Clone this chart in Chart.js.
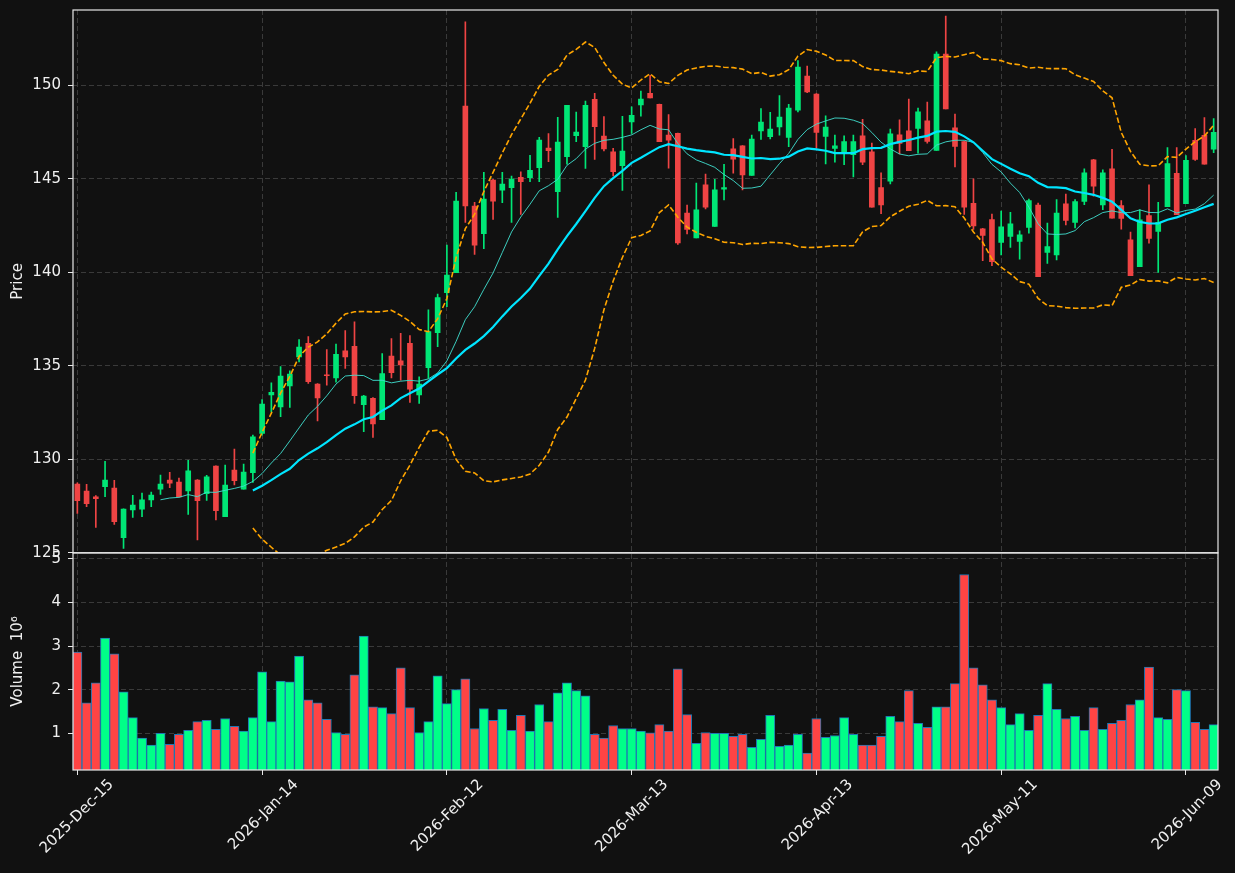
<!DOCTYPE html>
<html>
<head>
<meta charset="utf-8">
<title>Price / Volume</title>
<script src="https://cdn.jsdelivr.net/npm/chart.js@4.4.1/dist/chart.umd.min.js"></script>
<style>
  html, body { margin: 0; padding: 0; background: #111111; }
  #chart_price { display: block; }
</style>
</head>
<body>
<canvas id="chart_price" width="1235" height="873"></canvas>
<script>
var opens = [
  128.68, 128.31, 127.99, 128.54, 128.47, 125.81, 127.29, 127.34, 127.83, 128.41,
  128.89, 128.79, 128.31, 128.89, 128.16, 129.64, 126.93, 129.43, 128.40, 129.29,
  131.39, 133.45, 132.81, 133.93, 135.48, 136.21, 134.02, 134.52, 134.36, 135.80,
  136.05, 132.92, 133.27, 132.12, 135.52, 135.27, 136.21, 133.45, 134.90, 136.77,
  138.91, 139.98, 148.89, 143.55, 142.07, 144.94, 144.40, 144.53, 145.08, 145.06,
  145.60, 146.65, 144.31, 146.19, 147.31, 146.72, 149.25, 147.29, 146.44, 145.71,
  148.05, 148.95, 149.57, 148.99, 147.34, 147.43, 143.17, 141.84, 144.68, 142.46,
  144.45, 146.60, 146.76, 145.18, 147.57, 147.25, 147.78, 147.22, 148.67, 150.50,
  149.54, 147.27, 146.63, 146.38, 146.29, 147.30, 146.45, 144.54, 144.88, 147.36,
  147.57, 147.70, 148.10, 146.52, 151.67, 147.73, 147.00, 143.69, 142.33, 142.82,
  141.60, 141.92, 141.65, 142.40, 143.60, 141.06, 140.93, 143.67, 142.67, 143.80,
  146.02, 143.60, 145.54, 143.57, 141.74, 140.30, 143.03, 142.19, 143.51, 145.29,
  143.67, 147.06, 147.33, 146.59
];
var highs = [
  128.75, 128.66, 128.06, 129.89, 128.88, 127.36, 128.07, 128.20, 128.25, 129.16,
  129.30, 129.00, 129.95, 128.92, 129.14, 129.66, 129.70, 130.55, 129.75, 131.30,
  133.20, 134.09, 134.96, 134.73, 136.41, 136.57, 134.05, 135.87, 136.16, 136.89,
  137.35, 133.42, 133.30, 135.66, 136.46, 136.74, 136.62, 134.41, 137.99, 138.84,
  141.46, 144.28, 153.40, 143.74, 145.35, 144.97, 145.35, 145.15, 145.37, 146.26,
  147.22, 147.42, 148.29, 148.93, 148.57, 149.16, 149.57, 148.33, 146.63, 148.35,
  148.85, 149.70, 150.53, 149.00, 148.44, 147.45, 143.60, 144.77, 145.25, 144.98,
  145.78, 147.16, 146.78, 147.34, 148.76, 148.56, 149.45, 148.99, 151.33, 151.03,
  149.56, 148.37, 147.34, 147.30, 147.34, 148.19, 146.91, 145.32, 147.66, 148.16,
  149.26, 148.78, 149.10, 151.79, 153.71, 148.46, 147.02, 145.00, 142.36, 143.12,
  143.28, 143.21, 142.22, 143.92, 143.71, 142.63, 143.89, 144.19, 143.89, 145.54,
  146.04, 145.48, 146.58, 143.84, 142.15, 143.35, 144.68, 143.75, 146.67, 146.67,
  146.25, 147.69, 148.28, 148.23
];
var lows = [
  127.11, 127.47, 126.36, 128.00, 126.52, 125.24, 126.90, 126.93, 127.47, 128.13,
  128.48, 127.99, 127.06, 125.69, 127.81, 126.76, 126.93, 128.63, 128.40, 128.77,
  131.30, 132.54, 132.28, 132.78, 135.21, 134.06, 132.06, 133.97, 134.13, 134.86,
  132.99, 131.48, 131.17, 132.12, 134.36, 134.23, 133.04, 132.99, 134.33, 136.02,
  138.16, 139.98, 142.67, 140.96, 141.27, 142.83, 143.73, 142.67, 143.10, 144.85,
  144.85, 145.92, 142.94, 145.79, 146.99, 145.56, 146.04, 146.49, 145.16, 144.38,
  147.43, 148.35, 149.33, 146.99, 145.57, 141.49, 142.06, 141.84, 143.39, 142.46,
  143.88, 145.30, 144.41, 145.18, 147.11, 147.13, 147.34, 146.72, 148.58, 149.61,
  146.65, 145.80, 145.89, 145.76, 145.11, 145.76, 143.49, 143.14, 144.73, 146.33,
  146.51, 146.38, 146.91, 146.52, 148.74, 145.64, 143.10, 142.30, 140.63, 140.36,
  140.93, 141.34, 140.70, 142.10, 139.77, 140.48, 140.66, 142.54, 142.37, 143.62,
  144.07, 143.35, 142.90, 142.31, 139.82, 140.30, 141.56, 140.00, 143.51, 143.08,
  143.67, 145.99, 145.79, 146.40
];
var closes = [
  127.79, 127.63, 127.90, 128.89, 126.67, 127.34, 127.56, 127.83, 128.09, 128.68,
  128.73, 127.99, 129.38, 127.79, 129.06, 127.25, 128.63, 128.86, 129.32, 131.21,
  132.95, 133.59, 134.45, 134.56, 136.00, 134.15, 133.29, 134.47, 135.62, 135.48,
  133.40, 133.38, 131.90, 134.59, 134.63, 135.05, 133.75, 134.02, 136.83, 138.65,
  139.86, 143.81, 143.55, 141.46, 143.92, 143.81, 144.72, 144.99, 144.85, 145.45,
  147.08, 146.51, 146.97, 148.93, 147.50, 148.93, 147.79, 146.60, 145.39, 146.49,
  148.40, 149.26, 149.33, 146.99, 147.07, 141.58, 142.29, 143.35, 143.48, 144.41,
  144.54, 146.05, 145.21, 147.13, 148.03, 147.66, 148.30, 148.78, 150.98, 149.65,
  147.48, 147.77, 146.77, 146.99, 146.99, 145.89, 143.49, 143.60, 147.41, 146.90,
  146.51, 148.58, 147.00, 151.67, 148.74, 146.74, 143.49, 142.48, 141.98, 140.57,
  142.44, 142.60, 142.01, 143.84, 139.77, 141.38, 143.17, 142.78, 143.78, 145.32,
  144.61, 145.32, 142.90, 142.89, 139.82, 142.81, 141.81, 142.67, 145.82, 143.08,
  145.99, 146.04, 145.79, 147.49
];
// volume in millions
var volumes = [
  2.86, 1.70, 2.16, 3.18, 2.82, 1.95, 1.36, 0.89, 0.73, 1.00,
  0.75, 0.98, 1.07, 1.27, 1.30, 1.09, 1.34, 1.16, 1.05, 1.36,
  2.41, 1.27, 2.20, 2.18, 2.77, 1.77, 1.70, 1.32, 1.02, 0.98,
  2.34, 3.23, 1.61, 1.59, 1.45, 2.50, 1.59, 1.02, 1.27, 2.32,
  1.68, 2.00, 2.25, 1.11, 1.57, 1.30, 1.55, 1.07, 1.41, 1.05,
  1.66, 1.27, 1.93, 2.16, 1.98, 1.86, 0.98, 0.89, 1.18, 1.11,
  1.11, 1.05, 1.01, 1.20, 1.05, 2.48, 1.43, 0.77, 1.02, 1.00,
  1.00, 0.93, 0.98, 0.68, 0.86, 1.41, 0.70, 0.73, 0.98, 0.55,
  1.34, 0.91, 0.95, 1.36, 0.98, 0.73, 0.73, 0.93, 1.39, 1.27,
  1.98, 1.23, 1.14, 1.61, 1.61, 2.14, 4.64, 2.50, 2.11, 1.77,
  1.59, 1.20, 1.45, 1.07, 1.41, 2.14, 1.55, 1.34, 1.39, 1.07,
  1.59, 1.09, 1.23, 1.30, 1.66, 1.77, 2.52, 1.36, 1.32, 2.00,
  1.98, 1.25, 1.09, 1.20
];
var tick_positions = [0, 20, 40, 60, 80, 100, 120];
var tick_labels = ['2025-Dec-15', '2026-Jan-14', '2026-Feb-12', '2026-Mar-13', '2026-Apr-13', '2026-May-11', '2026-Jun-09'];
var price_ticks = [125, 130, 135, 140, 145, 150];
var volume_ticks = [1, 2, 3, 4, 5];

var up_color = '#00e676';
var down_color = '#ef4444';
var vol_up_color = '#00ff88';
var vol_down_color = '#ff4444';
var text_color = '#f0f0f0';
var font = { family: 'DejaVu Sans', size: 15 };

function sma(values, n){
  return values.map(function (v, i) {
    if (i < n - 1) return null;
    var s = 0;
    for (var k = i - n + 1; k <= i; k++) s += values[k];
    return s / n;
  });
}

function rolling_std(values, n){
  var mean = sma(values, n);
  return values.map(function (v, i) {
    if (mean[i] === null) return null;
    var s = 0;
    for (var k = i - n + 1; k <= i; k++) s += Math.pow(values[k] - mean[i], 2);
    return Math.sqrt(s / (n - 1));
  });
}

function points(values){
  return values.map(function (v, i) { return {x: i, y: v}; });
}

function make_grid(){
  return { color: '#3a3a3a', lineWidth: 1, tickColor: '#e8e8e8', tickLength: 5, offset: false };
}

function make_border(){
  return { display: false, dash: [5, 3] };
}

function fit_left_axis(scale){
  scale.width = 73;
  scale.paddingTop = 0;
  scale.paddingBottom = 0;
}

var panel_clip = {
  id: 'panel_clip',
  beforeDatasetDraw: function (chart, args) {
    var s = chart.scales[args.meta.yAxisID];
    var area = chart.chartArea;
    chart.ctx.save();
    chart.ctx.beginPath();
    chart.ctx.rect(area.left, s.top, area.right - area.left, s.bottom - s.top);
    chart.ctx.clip();
  },
  afterDatasetDraw: function (chart) {
    chart.ctx.restore();
  }
};

var panel_frames = {
  id: 'panel_frames',
  beforeDraw: function (chart) {
    var ctx = chart.ctx;
    ctx.save();
    ctx.fillStyle = '#111111';
    ctx.fillRect(0, 0, chart.width, chart.height);
    ctx.restore();
  },
  afterDraw: function (chart) {
    var ctx = chart.ctx, area = chart.chartArea;
    ctx.save();
    ctx.strokeStyle = '#e8e8e8';
    ctx.lineWidth = 1.2;
    ['y', 'yv'].forEach(function (id) {
      var s = chart.scales[id];
      ctx.strokeRect(area.left, s.top, area.right - area.left, s.bottom - s.top);
    });
    ctx.restore();
  }
};

function load_chart(){
  var idx = closes.map(function (c, i) { return i; });
  var candle_colors = idx.map(function (i) { return closes[i] >= opens[i] ? up_color : down_color; });
  var volume_colors = idx.map(function (i) { return closes[i] >= opens[i] ? vol_up_color : vol_down_color; });

  var ma10 = sma(closes, 10);
  var ma20 = sma(closes, 20);
  var std20 = rolling_std(closes, 20);
  var bb_upper = ma20.map(function (m, i) { return m === null ? null : m + 2 * std20[i]; });
  var bb_lower = ma20.map(function (m, i) { return m === null ? null : m - 2 * std20[i]; });

  var ctx = document.getElementById('chart_price').getContext('2d');

  var mychart = new Chart(ctx, {
    type: 'line',
    data: {
      datasets: [
        { label: 'MA10', data: points(ma10), yAxisID: 'y', borderColor: 'rgba(64, 224, 208, 0.9)', borderWidth: 1, pointRadius: 0, tension: 0, order: 1 },
        { label: 'MA20', data: points(ma20), yAxisID: 'y', borderColor: '#00e5ff', borderWidth: 2.2, pointRadius: 0, tension: 0, order: 0 },
        { label: 'BB upper', data: points(bb_upper), yAxisID: 'y', borderColor: '#ffa500', borderWidth: 1.6, borderDash: [5.5, 2.5], pointRadius: 0, tension: 0, order: 2 },
        { label: 'BB lower', data: points(bb_lower), yAxisID: 'y', borderColor: '#ffa500', borderWidth: 1.6, borderDash: [5.5, 2.5], pointRadius: 0, tension: 0, order: 2 },
        {
          type: 'bar', label: 'body', yAxisID: 'y', order: 5, grouped: false,
          data: idx.map(function (i) { return {x: i, y: [opens[i], closes[i]]}; }),
          backgroundColor: candle_colors, barThickness: 5, minBarLength: 1
        },
        {
          type: 'bar', label: 'wick', yAxisID: 'y', order: 6, grouped: false,
          data: idx.map(function (i) { return {x: i, y: [lows[i], highs[i]]}; }),
          backgroundColor: candle_colors, barThickness: 1
        },
        {
          type: 'bar', label: 'Volume', yAxisID: 'yv', order: 7, grouped: false,
          data: idx.map(function (i) { return {x: i, y: volumes[i]}; }),
          backgroundColor: volume_colors, borderColor: '#1f77b4', borderWidth: 1,
          barPercentage: 1, categoryPercentage: 1
        }
      ]
    },
    options: {
      responsive: false,
      animation: false,
      layout: { padding: { top: 10, right: 17, left: 0, bottom: 0 } },
      plugins: { legend: { display: false }, tooltip: { enabled: false } },
      scales: {
        x: {
          type: 'linear', position: 'bottom', min: -0.47, max: 123.47, offset: false,
          grid: make_grid(), border: make_border(),
          afterBuildTicks: function (scale) {
            scale.ticks = tick_positions.map(function (v) { return {value: v}; });
          },
          afterFit: function (scale) { scale.height = 103; },
          ticks: {
            color: text_color, font: font, autoSkip: false,
            minRotation: 45, maxRotation: 45, labelOffset: 34, padding: 1,
            callback: function (value) { return tick_labels[tick_positions.indexOf(value)]; }
          }
        },
        y: {
          type: 'linear', position: 'left', stack: 'panels', stackWeight: 2.5, weight: 2,
          min: 125, max: 154.03,
          grid: make_grid(), border: make_border(),
          afterBuildTicks: function (scale) {
            scale.ticks = price_ticks.map(function (v) { return {value: v}; });
          },
          afterFit: fit_left_axis,
          ticks: { color: text_color, font: font, padding: 7 },
          title: { display: true, text: 'Price', color: text_color, font: font, padding: 9 }
        },
        yv: {
          type: 'linear', position: 'left', stack: 'panels', stackWeight: 1, weight: 1,
          min: 0.16, max: 5.135,
          grid: make_grid(), border: make_border(),
          afterBuildTicks: function (scale) {
            scale.ticks = volume_ticks.map(function (v) { return {value: v}; });
          },
          afterFit: fit_left_axis,
          ticks: { color: text_color, font: font, padding: 7 },
          title: { display: true, text: 'Volume  10\u2076', color: text_color, font: font, padding: 9 }
        }
      }
    },
    plugins: [panel_clip, panel_frames]
  });
}

load_chart();
</script>
</body>
</html>
